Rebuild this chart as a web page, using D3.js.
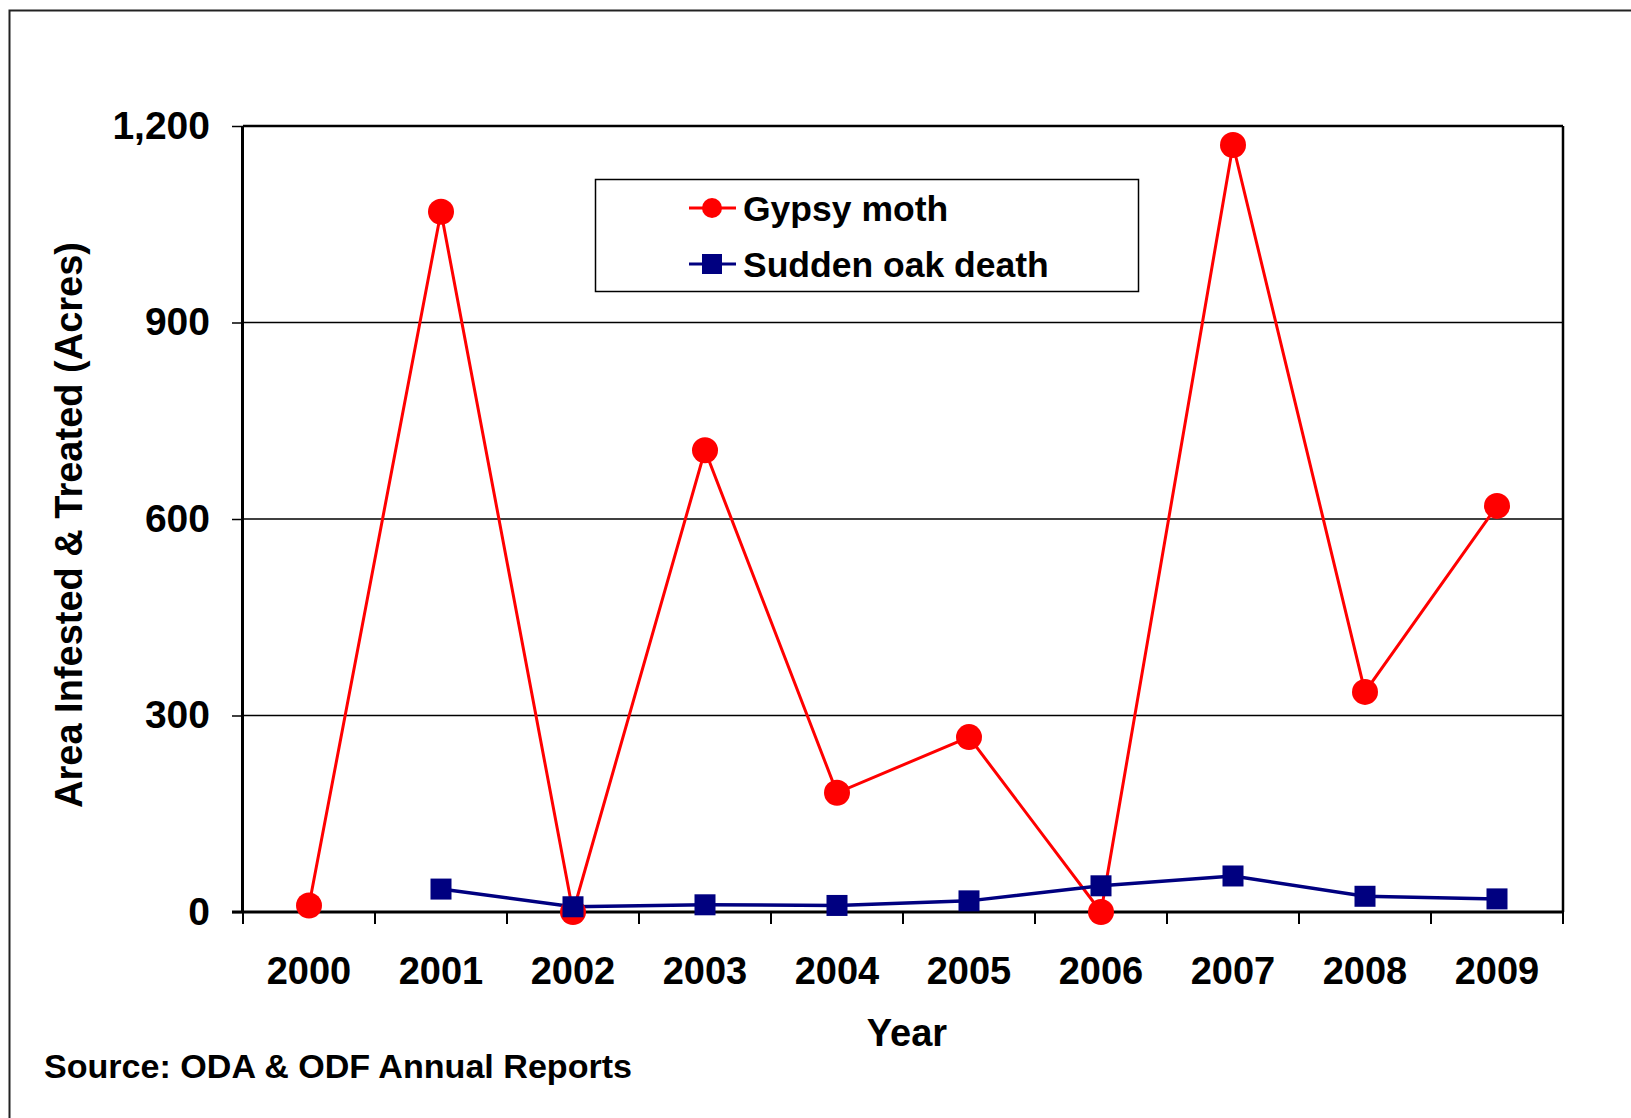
<!DOCTYPE html>
<html lang="en">
<head>
    <meta charset="UTF-8">
    <title>Area Infested & Treated</title>
    <script src="https://d3js.org/d3.v7.min.js"></script>
    <style>
        body { margin: 0; background: #fff; }
        text { font-family: "Liberation Sans", Arial, sans-serif; font-weight: bold; fill: #000; }
    </style>
</head>
<body>
    <div id="chart"></div>

    <script>
        // Data
        const years = ["2000", "2001", "2002", "2003", "2004", "2005", "2006", "2007", "2008", "2009"];
        const gypsyMoth = [10, 1069, 0, 705, 182, 267, 0, 1171, 336, 620];
        const suddenOakDeath = [null, 35, 8, 11, 10, 17, 40, 55, 24, 20];
        const yTicks = [0, 300, 600, 900, 1200];

        const width = 1631;
        const height = 1118;
        const margin = { top: 126, left: 243, right: 68, bottom: 206 };
        const plotW = width - margin.left - margin.right;   // 1320
        const plotH = height - margin.top - margin.bottom;  // 786

        const svg = d3.select("#chart")
            .append("svg")
            .attr("width", width)
            .attr("height", height);

        // outer frame (runs past the right and bottom edges)
        svg.append("rect")
            .attr("x", 9.5).attr("y", 10.5)
            .attr("width", width + 20).attr("height", height + 20)
            .attr("fill", "none")
            .attr("stroke", "#222")
            .attr("stroke-width", 2);

        const x = d3.scaleBand().domain(years).range([0, plotW]);
        const y = d3.scaleLinear().domain([0, 1200]).range([plotH, 0]);

        const g = svg.append("g").attr("transform", `translate(${margin.left},${margin.top})`);

        // gridlines
        g.selectAll(".grid")
            .data(yTicks.filter(d => d > 0))
            .join("line")
            .attr("x1", 0).attr("x2", plotW)
            .attr("y1", d => y(d)).attr("y2", d => y(d))
            .attr("stroke", "#000")
            .attr("stroke-width", d => d === 1200 ? 2.5 : 1.5);

        // right border
        g.append("line")
            .attr("x1", plotW).attr("x2", plotW)
            .attr("y1", 0).attr("y2", plotH)
            .attr("stroke", "#000").attr("stroke-width", 2.5);

        // y axis
        const yAxis = g.append("g")
            .call(d3.axisLeft(y).tickValues(yTicks).tickSize(11).tickPadding(22).tickFormat(d3.format(",")));
        yAxis.select(".domain").attr("stroke-width", 3).attr("d", `M-0.5,0V${plotH}`);
        yAxis.selectAll(".tick line").attr("stroke-width", 1.5);
        yAxis.selectAll("text").style("font-size", "39px");

        // x axis with ticks on category boundaries
        g.append("line")
            .attr("x1", -11).attr("x2", plotW)
            .attr("y1", plotH).attr("y2", plotH)
            .attr("stroke", "#000").attr("stroke-width", 3);
        g.selectAll(".xtick")
            .data(d3.range(years.length + 1))
            .join("line")
            .attr("x1", i => i * x.step()).attr("x2", i => i * x.step())
            .attr("y1", plotH).attr("y2", plotH + 12)
            .attr("stroke", "#000").attr("stroke-width", 2);
        g.selectAll(".xlabel")
            .data(years)
            .join("text")
            .attr("x", d => x(d) + x.bandwidth() / 2)
            .attr("y", plotH + 72)
            .attr("text-anchor", "middle")
            .style("font-size", "38px")
            .text(d => d);

        const cx = i => x(years[i]) + x.bandwidth() / 2;

        // Gypsy moth line
        const gypsyLine = d3.line()
            .x((d, i) => cx(i))
            .y(d => y(d));
        g.append("path")
            .datum(gypsyMoth)
            .attr("d", gypsyLine)
            .attr("fill", "none")
            .attr("stroke", "#ff0000")
            .attr("stroke-width", 3);

        // Sudden oak death line
        const sodLine = d3.line()
            .defined(d => d !== null)
            .x((d, i) => cx(i))
            .y(d => y(d));
        g.append("path")
            .datum(suddenOakDeath)
            .attr("d", sodLine)
            .attr("fill", "none")
            .attr("stroke", "#000080")
            .attr("stroke-width", 3.5);

        g.selectAll(".gm")
            .data(gypsyMoth)
            .join("circle")
            .attr("cx", (d, i) => cx(i))
            .attr("cy", d => y(d))
            .attr("r", 13)
            .attr("fill", "#ff0000");

        g.selectAll(".sod")
            .data(suddenOakDeath.map((v, i) => ({ v, i })).filter(d => d.v !== null))
            .join("rect")
            .attr("x", d => cx(d.i) - 10.5)
            .attr("y", d => y(d.v) - 10.5)
            .attr("width", 21).attr("height", 21)
            .attr("fill", "#000080");

        // legend
        const legend = svg.append("g");
        legend.append("rect")
            .attr("x", 595.5).attr("y", 179.5)
            .attr("width", 543).attr("height", 112)
            .attr("fill", "#fff")
            .attr("stroke", "#000").attr("stroke-width", 1.5);
        const legendItems = [
            { name: "Gypsy moth", color: "#ff0000", shape: "circle", y: 208 },
            { name: "Sudden oak death", color: "#000080", shape: "square", y: 264 }
        ];
        legendItems.forEach(item => {
            legend.append("line")
                .attr("x1", 689).attr("x2", 736)
                .attr("y1", item.y).attr("y2", item.y)
                .attr("stroke", item.color).attr("stroke-width", 3);
            if (item.shape === "circle") {
                legend.append("circle").attr("cx", 712).attr("cy", item.y).attr("r", 10).attr("fill", item.color);
            } else {
                legend.append("rect").attr("x", 702).attr("y", item.y - 10).attr("width", 20).attr("height", 20).attr("fill", item.color);
            }
            legend.append("text")
                .attr("x", 743).attr("y", item.y + 13)
                .style("font-size", "35.5px")
                .text(item.name);
        });

        // axis titles
        svg.append("text")
            .attr("transform", "translate(82,525) rotate(-90)")
            .attr("text-anchor", "middle")
            .style("font-size", "38px")
            .text("Area Infested & Treated (Acres)");

        svg.append("text")
            .attr("x", 907).attr("y", 1046)
            .attr("text-anchor", "middle")
            .style("font-size", "38px")
            .text("Year");

        svg.append("text")
            .attr("x", 44).attr("y", 1078)
            .attr("textLength", 588)
            .attr("lengthAdjust", "spacingAndGlyphs")
            .style("font-size", "34px")
            .text("Source: ODA & ODF Annual Reports");
    </script>
</body>
</html>
